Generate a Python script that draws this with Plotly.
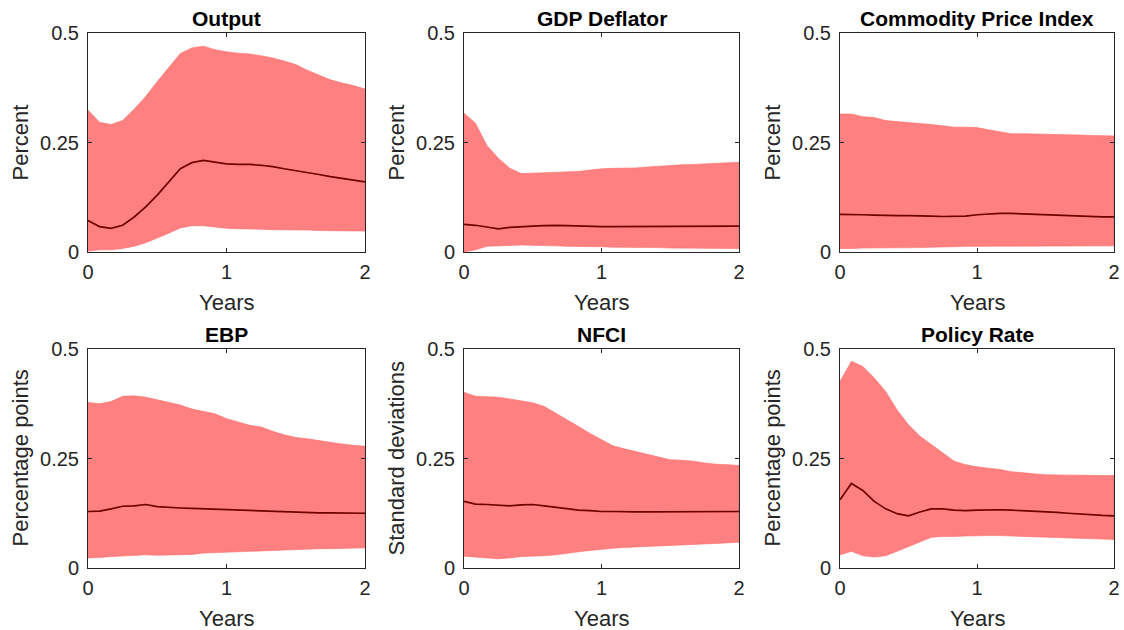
import plotly.graph_objects as go

# Horizon in months, shown in years
months = list(range(25))
years = [m / 12 for m in months]

titles = ["Output", "GDP Deflator", "Commodity Price Index",
          "EBP", "NFCI", "Policy Rate"]
ylabels = ["Percent", "Percent", "Percent",
           "Percentage points", "Standard deviations", "Percentage points"]

x_ticks = [0, 1, 2]
x_ticktext = ["0", "1", "2"]
y_ticks = [0, 0.25, 0.5]
y_ticktext = ["0", "0.25", "0.5"]

# Median responses and 68% bands
output_mid = [0.072, 0.058, 0.054, 0.061, 0.080, 0.103, 0.130, 0.160, 0.190, 0.204, 0.209, 0.205, 0.201,
              0.200, 0.200, 0.198, 0.195, 0.190, 0.186, 0.182, 0.177, 0.172, 0.168, 0.164, 0.160]
output_hi = [0.324, 0.296, 0.291, 0.300, 0.326, 0.355, 0.389, 0.422, 0.453, 0.466, 0.470, 0.462, 0.457,
             0.454, 0.452, 0.448, 0.443, 0.436, 0.428, 0.415, 0.404, 0.393, 0.386, 0.380, 0.372]
output_lo = [0.002, 0.005, 0.005, 0.008, 0.013, 0.021, 0.032, 0.043, 0.055, 0.060, 0.060, 0.057, 0.054,
             0.053, 0.052, 0.052, 0.051, 0.051, 0.050, 0.050, 0.049, 0.049, 0.048, 0.048, 0.048]

deflator_mid = [0.063, 0.061, 0.057, 0.053, 0.056, 0.058, 0.059, 0.060, 0.061, 0.060, 0.059, 0.059, 0.058,
                0.058, 0.058, 0.058, 0.058, 0.058, 0.058, 0.058, 0.058, 0.059, 0.059, 0.059, 0.059]
deflator_hi = [0.317, 0.294, 0.243, 0.214, 0.191, 0.179, 0.180, 0.181, 0.182, 0.183, 0.184, 0.187, 0.190,
               0.191, 0.191, 0.192, 0.194, 0.196, 0.198, 0.199, 0.200, 0.201, 0.202, 0.203, 0.205]
deflator_lo = [0.000, 0.005, 0.013, 0.014, 0.015, 0.016, 0.015, 0.015, 0.014, 0.013, 0.013, 0.012, 0.012,
               0.011, 0.011, 0.010, 0.010, 0.010, 0.009, 0.009, 0.009, 0.008, 0.008, 0.008, 0.008]

commodity_mid = [0.086, 0.086, 0.085, 0.084, 0.083, 0.083, 0.083, 0.083, 0.082, 0.081, 0.081, 0.082, 0.085,
                 0.087, 0.088, 0.088, 0.087, 0.086, 0.085, 0.083, 0.082, 0.081, 0.080, 0.080, 0.080]
commodity_hi = [0.315, 0.315, 0.309, 0.307, 0.300, 0.298, 0.295, 0.293, 0.291, 0.288, 0.285, 0.285, 0.284,
                0.279, 0.274, 0.270, 0.270, 0.270, 0.269, 0.268, 0.268, 0.267, 0.266, 0.265, 0.265]
commodity_lo = [0.008, 0.008, 0.009, 0.009, 0.010, 0.010, 0.010, 0.010, 0.011, 0.012, 0.012, 0.013, 0.013,
                0.013, 0.013, 0.014, 0.014, 0.014, 0.014, 0.014, 0.014, 0.014, 0.014, 0.014, 0.014]

ebp_mid = [0.129, 0.130, 0.135, 0.141, 0.142, 0.145, 0.140, 0.138, 0.137, 0.136, 0.135, 0.134, 0.133,
           0.132, 0.132, 0.131, 0.130, 0.129, 0.128, 0.127, 0.126, 0.126, 0.126, 0.125, 0.125]
ebp_hi = [0.378, 0.375, 0.380, 0.392, 0.393, 0.390, 0.384, 0.378, 0.372, 0.363, 0.358, 0.352, 0.341,
          0.333, 0.326, 0.322, 0.312, 0.304, 0.298, 0.295, 0.291, 0.286, 0.283, 0.280, 0.278]
ebp_lo = [0.023, 0.024, 0.026, 0.028, 0.029, 0.030, 0.029, 0.029, 0.030, 0.031, 0.034, 0.036, 0.037,
          0.038, 0.039, 0.040, 0.041, 0.042, 0.042, 0.043, 0.044, 0.044, 0.045, 0.045, 0.046]

nfci_mid = [0.152, 0.146, 0.145, 0.143, 0.142, 0.144, 0.145, 0.142, 0.139, 0.135, 0.132, 0.131, 0.129,
            0.129, 0.128, 0.128, 0.128, 0.128, 0.129, 0.129, 0.128, 0.128, 0.128, 0.128, 0.129]
nfci_hi = [0.401, 0.392, 0.391, 0.390, 0.386, 0.381, 0.377, 0.369, 0.354, 0.339, 0.323, 0.307, 0.293,
           0.279, 0.272, 0.266, 0.260, 0.253, 0.247, 0.246, 0.244, 0.240, 0.237, 0.236, 0.234]
nfci_lo = [0.027, 0.025, 0.023, 0.021, 0.023, 0.026, 0.027, 0.028, 0.030, 0.033, 0.037, 0.040, 0.043,
           0.045, 0.047, 0.049, 0.050, 0.051, 0.052, 0.053, 0.054, 0.055, 0.056, 0.057, 0.059]

policy_mid = [0.156, 0.193, 0.177, 0.152, 0.135, 0.124, 0.119, 0.128, 0.135, 0.135, 0.132, 0.131, 0.132,
              0.133, 0.133, 0.132, 0.131, 0.130, 0.129, 0.127, 0.125, 0.123, 0.121, 0.120, 0.119]
policy_hi = [0.426, 0.472, 0.460, 0.434, 0.403, 0.361, 0.327, 0.301, 0.282, 0.263, 0.244, 0.236, 0.231,
             0.228, 0.225, 0.220, 0.217, 0.215, 0.213, 0.212, 0.212, 0.212, 0.211, 0.211, 0.211]
policy_lo = [0.030, 0.038, 0.028, 0.025, 0.028, 0.038, 0.048, 0.059, 0.070, 0.072, 0.072, 0.073, 0.074,
             0.074, 0.074, 0.074, 0.073, 0.072, 0.071, 0.070, 0.069, 0.068, 0.067, 0.066, 0.065]

series = [
    (output_lo, output_mid, output_hi),
    (deflator_lo, deflator_mid, deflator_hi),
    (commodity_lo, commodity_mid, commodity_hi),
    (ebp_lo, ebp_mid, ebp_hi),
    (nfci_lo, nfci_mid, nfci_hi),
    (policy_lo, policy_mid, policy_hi),
]

W, H = 1124, 630
FONT = "Liberation Sans, Arial, Helvetica, sans-serif"
AXIS_COLOR = "#262626"
BAND_FILL = "#ff8080"
BAND_EDGE = "#ff6a6a"
LINE_COLOR = "#6e0000"

# Panel boxes in pixels: (left, right) per column, (top, bottom) per row
cols_px = [(88, 365), (464, 739), (840, 1114)]
rows_px = [(33, 252), (349, 568)]

fig = go.Figure()
annotations = []

for i, (lo, mid, hi) in enumerate(series):
    r, c = divmod(i, 3)
    n = i + 1
    xa = "x" if n == 1 else f"x{n}"
    ya = "y" if n == 1 else f"y{n}"

    # Shaded band as a closed polygon
    fig.add_trace(go.Scatter(
        x=years + years[::-1], y=hi + lo[::-1],
        xaxis=xa, yaxis=ya, mode="lines", fill="toself",
        fillcolor=BAND_FILL, line=dict(color=BAND_EDGE, width=0.6),
        hoverinfo="skip", showlegend=False))
    # Median response
    fig.add_trace(go.Scatter(
        x=years, y=mid, xaxis=xa, yaxis=ya, mode="lines",
        line=dict(color=LINE_COLOR, width=1.7), showlegend=False))

    left, right = cols_px[c]
    top, bottom = rows_px[r]
    axis_common = dict(
        ticks="inside", ticklen=4, tickwidth=1, tickcolor=AXIS_COLOR,
        showline=True, linecolor=AXIS_COLOR, linewidth=1, mirror="ticks",
        showgrid=False, zeroline=False, fixedrange=True, automargin=False,
        tickfont=dict(family=FONT, size=20, color=AXIS_COLOR),
    )
    fig.layout[f"xaxis{'' if n == 1 else n}"] = dict(
        domain=[left / W, right / W], anchor=ya, range=[0, 2],
        tickvals=x_ticks, ticktext=x_ticktext, ticklabelstandoff=2, **axis_common)
    fig.layout[f"yaxis{'' if n == 1 else n}"] = dict(
        domain=[1 - bottom / H, 1 - top / H], anchor=xa, range=[0, 0.5],
        tickvals=y_ticks, ticktext=y_ticktext, ticklabelstandoff=4, **axis_common)

    cx = (left + right) / 2
    # Panel title
    annotations.append(dict(
        text=f"<b>{titles[i]}</b>", xref="paper", yref="paper",
        x=cx / W, y=1 - (top - 14.5) / H, xanchor="center", yanchor="middle",
        showarrow=False, font=dict(family=FONT, size=21, color="black")))
    # x-axis label
    annotations.append(dict(
        text="Years", xref="paper", yref="paper",
        x=cx / W, y=1 - (bottom + 50) / H, xanchor="center", yanchor="middle",
        showarrow=False, font=dict(family=FONT, size=22, color=AXIS_COLOR)))
    # y-axis label
    annotations.append(dict(
        text=ylabels[i], xref="paper", yref="paper", textangle=-90,
        x=(left - 68) / W, y=1 - (top + bottom) / 2 / H,
        xanchor="center", yanchor="middle",
        showarrow=False, font=dict(family=FONT, size=22, color=AXIS_COLOR)))

fig.update_layout(
    width=W, height=H, margin=dict(l=0, r=0, t=0, b=0, autoexpand=False),
    paper_bgcolor="white", plot_bgcolor="white",
    showlegend=False, annotations=annotations,
)

fig.write_html("out.html")
